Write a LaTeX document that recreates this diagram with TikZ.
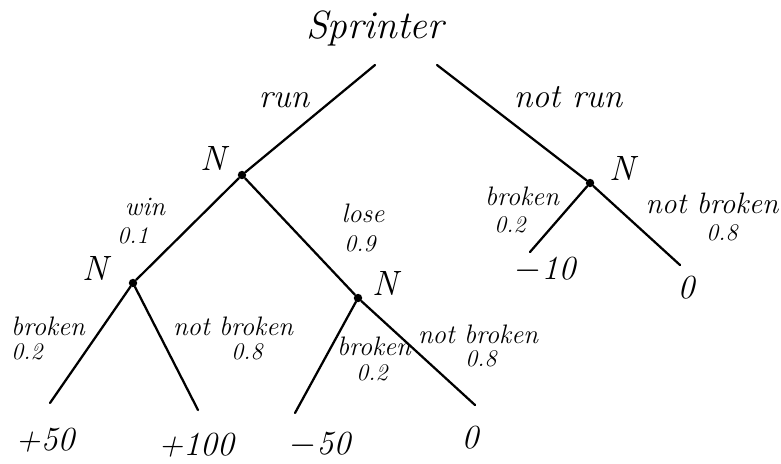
\documentclass[tikz,border=0pt]{standalone}
\usepackage{tikz}
\usetikzlibrary{calc, positioning}

\begin{document}
\begin{tikzpicture}[
    x=0.025cm, y=-0.025cm,
    branch/.style={line width=1.6pt, line cap=round},
    chance/.style={circle, fill, inner sep=0pt, minimum size=6pt},
    nlbl/.style={font=\fontsize{25}{27}\selectfont\itshape, inner sep=1pt},
    act/.style={font=\fontsize{24}{26}\selectfont\itshape, inner sep=1pt},
    lbl/.style={font=\fontsize{19}{21}\selectfont\itshape, inner sep=1pt},
    prob/.style={font=\fontsize{17}{19}\selectfont\itshape, inner sep=1pt},
    payoff/.style={font=\fontsize{24}{26}\selectfont\itshape, inner sep=1pt}
]
    \useasboundingbox (0,0) rectangle (781,463);

    % 标题
    \node[font=\fontsize{28}{30}\selectfont\itshape] (title) at (375,28) {Sprinter};
    \coordinate (rootL) at (375,65);
    \coordinate (rootR) at (437,65);

    % 机会节点
    \node[chance] (run) at (242,175) {};
    \node[chance] (notrun) at (590,183) {};
    \node[chance] (win) at (133,283) {};
    \node[chance] (lose) at (358,298) {};
    \node[nlbl] at (213,158) {N};
    \node[nlbl] at (622,168) {N};
    \node[nlbl] at (95,268) {N};
    \node[nlbl] at (385,283) {N};

    % 叶子
    \coordinate (l1) at (50,403);
    \coordinate (l2) at (198,410);
    \coordinate (l3) at (295,413);
    \coordinate (l4) at (475,405);
    \coordinate (l5) at (530,252);
    \coordinate (l6) at (680,265);
    \node[payoff] (p1) at (45,440) {+50};
    \node[payoff] (p2) at (196,445) {+100};
    \node[payoff] (p3) at (320,445) {$-$50};
    \node[payoff] (p4) at (470,438) {0};
    \node[payoff] (p5) at (545,270) {$-$10};
    \node[payoff] (p6) at (686,288) {0};

    % 分支
    \draw[branch] (rootL) -- (run);
    \draw[branch] (rootR) -- (notrun);
    \draw[branch] (run) -- (win);
    \draw[branch] (run) -- (lose);
    \draw[branch] (win) -- (l1);
    \draw[branch] (win) -- (l2);
    \draw[branch] (lose) -- (l3);
    \draw[branch] (lose) -- (l4);
    \draw[branch] (notrun) -- (l5);
    \draw[branch] (notrun) -- (l6);

    % 标签
    \node[act] at (284,100) {run};
    \node[act] at (568,97) {not run};
    \node[lbl] at (145,207) {win};
    \node[prob] at (133,236) {0.1};
    \node[lbl] at (363,213) {lose};
    \node[prob] at (360,244) {0.9};
    \node[lbl] at (48,326) {broken};
    \node[prob] at (27,352) {0.2};
    \node[lbl] at (233,326) {not broken};
    \node[prob] at (247,352) {0.8};
    \node[lbl] at (374,346) {broken};
    \node[prob] at (372,373) {0.2};
    \node[lbl] at (478,334) {not broken};
    \node[prob] at (481,359) {0.8};
    \node[lbl] at (522,196) {broken};
    \node[prob] at (510,225) {0.2};
    \node[lbl, font=\fontsize{21}{23}\selectfont\itshape] at (712,203) {not broken};
    \node[prob] at (722,233) {0.8};
\end{tikzpicture}
\end{document}
